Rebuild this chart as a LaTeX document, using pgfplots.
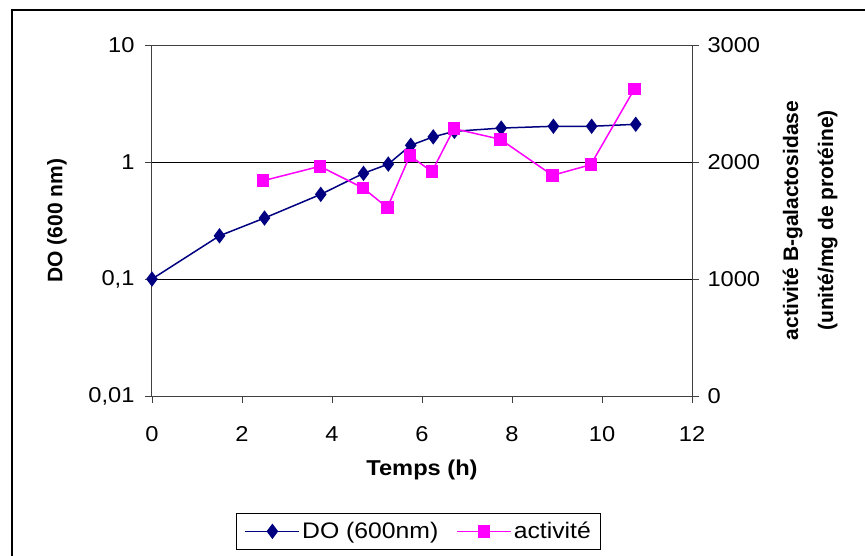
\documentclass[border=0pt]{standalone}
\usepackage{fontspec}
\setmainfont{Liberation Sans}[FakeStretch=1.1]
\newfontfamily\rotfont{Liberation Sans}
\usepackage{pgfplots}
\pgfplotsset{compat=1.18}
\definecolor{donavy}{RGB}{0,0,128}
\definecolor{actmag}{RGB}{255,0,255}
\newcommand{\bigf}{\fontsize{21.5}{25}\selectfont}
\begin{document}
\begin{tikzpicture}
\path[use as bounding box] (0pt,0pt) rectangle (865pt,555pt);
\draw[black, line width=1.3pt] (12pt,-2pt) -- (12pt,545pt) -- (867pt,545pt);
\begin{axis}[
  at={(152pt,159pt)}, anchor=south west,
  scale only axis, width=540pt, height=351pt,
  xmin=0, xmax=12, ymode=log, ymin=0.01, ymax=10,
  xtick={0,2,4,6,8,10,12},
  ytick={0.01,0.1,1,10}, yticklabels={{0,01},{0,1},1,10},
  minor tick length=0pt, minor tick style={draw=none},
  xtick pos=bottom, ytick pos=left,
  tick align=outside, major tick length=7pt,
  tick style={black!75, line width=0.9pt},
  axis line style={black!75, line width=1pt},
  ymajorgrids, grid style={black, line width=0.9pt},
  tick label style={font=\bigf},
  xticklabel style={yshift=-20pt},
  yticklabel style={xshift=-7pt},
  /pgf/number format/assume math mode=true,
  xlabel={\textbf{Temps (h)}},
  xlabel style={at={(axis description cs:0.5,-0.212)}, anchor=center, font=\bigf},
  ylabel={DO (600 nm)},
  ylabel style={at={(axis description cs:-0.176,0.5)}, anchor=center, font=\rotfont\bfseries\fontsize{21}{25}\selectfont},
  clip=false,
]
\addplot[donavy, line width=1.5pt, mark=diamond*, mark size=6.5pt, mark options={solid, fill=donavy}] coordinates {
  (0,0.1) (1.5,0.234) (2.5,0.332) (3.75,0.529) (4.7,0.80) (5.25,0.96)
  (5.75,1.39) (6.25,1.64) (6.72,1.83) (7.76,1.95) (8.92,2.02) (9.77,2.02) (10.75,2.10)
};
\end{axis}
\begin{axis}[
  at={(152pt,159pt)}, anchor=south west,
  scale only axis, width=540pt, height=351pt,
  xmin=0, xmax=12, ymin=0, ymax=3000,
  axis x line=none, axis y line*=right,
  ytick={0,1000,2000,3000}, yticklabels={0,1000,2000,3000},
  tick align=outside, major tick length=7pt,
  tick style={black!75, line width=0.9pt},
  axis line style={black!75, line width=1pt},
  tick label style={font=\bigf},
  yticklabel style={xshift=5pt},
  /pgf/number format/assume math mode=true,
  ylabel={activité B-galactosidase\\(unité/mg de protéine)},
  ylabel style={at={(axis description cs:1.219,0.5)}, anchor=center, align=center, font=\rotfont\bfseries\fontsize{21}{35}\selectfont},
  clip=false,
  legend columns=2,
  legend style={at={(0.494,-0.333)}, anchor=north, draw=black, line width=0.8pt,
    font=\fontsize{22.5}{26}\selectfont,
    inner xsep=8pt, inner ysep=7pt,
    /tikz/every even column/.append style={column sep=16pt}},
  legend image code/.code={\draw[mark repeat=2, mark phase=2] plot coordinates {(0pt,0pt) (27pt,0pt) (54pt,0pt)};},
]
\addlegendimage{donavy, line width=1.5pt, mark=diamond*, mark size=6.5pt, mark options={solid, fill=donavy}}
\addlegendentry{DO (600nm)}
\addplot[actmag, line width=1.5pt, mark=square*, mark size=5.5pt, mark options={solid, fill=actmag}] coordinates {
  (2.47,1840) (3.73,1963) (4.69,1778) (5.23,1610) (5.73,2054) (6.22,1917)
  (6.71,2285) (7.74,2194) (8.90,1886) (9.75,1977) (10.72,2624)
};
\addlegendentry{activité}
\end{axis}
\end{tikzpicture}
\end{document}
